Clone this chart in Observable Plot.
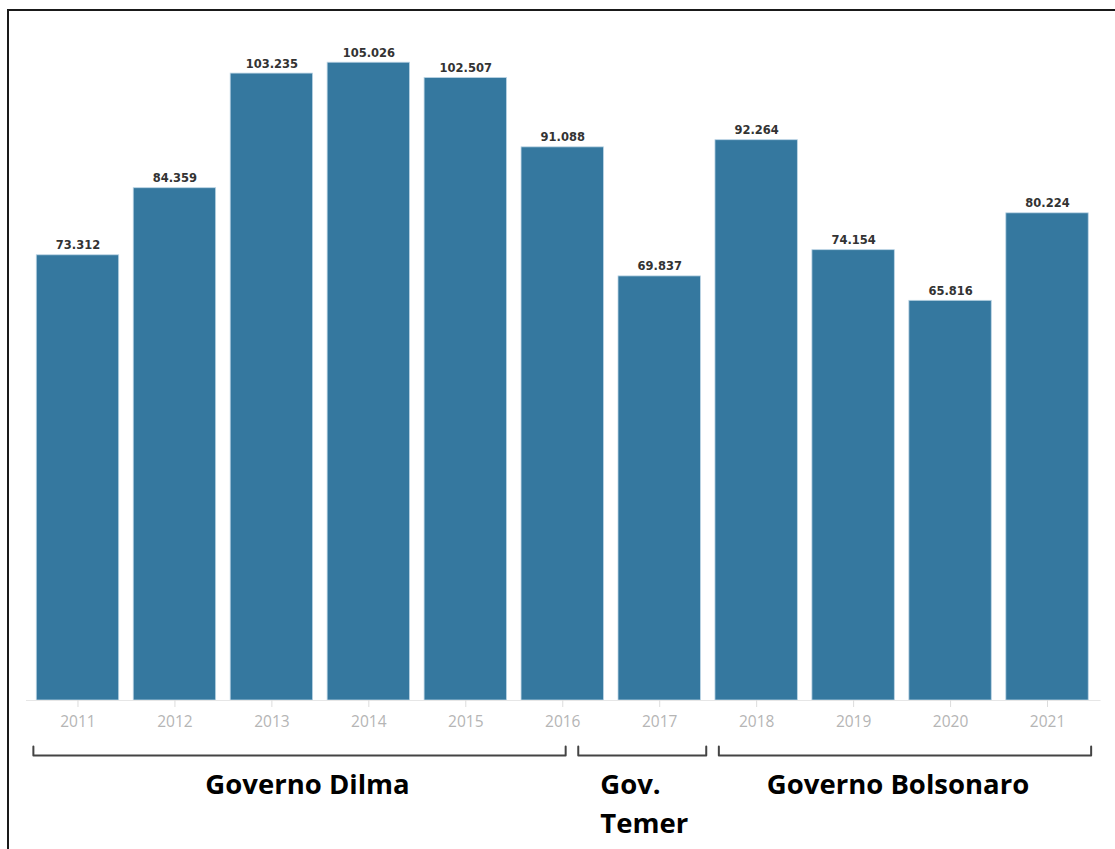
<!DOCTYPE html>
<html>
<head>
<meta charset="utf-8">
<script src="https://cdn.jsdelivr.net/npm/d3@7"></script>
<script src="https://cdn.jsdelivr.net/npm/@observablehq/plot@0.6"></script>
<style>
  html, body { margin: 0; padding: 0; background: #fff; }
  body { width: 1115px; height: 849px; position: relative; overflow: hidden; }
  #frame { position: absolute; left: 7px; top: 9px; width: 1200px; height: 900px;
           border-top: 2px solid #1a1a1a; border-left: 2px solid #1a1a1a; }
  #chart { position: absolute; left: 0; top: 0; }
</style>
</head>
<body>
<div id="frame"></div>
<div id="chart"></div>
<script>
// ---- data ----
const years = [2011, 2012, 2013, 2014, 2015, 2016, 2017, 2018, 2019, 2020, 2021];
const values = [73312, 84359, 103235, 105026, 102507, 91088, 69837, 92264, 74154, 65816, 80224];
const govNames = ["Governo Dilma", "Gov.\nTemer", "Governo Bolsonaro"];
const govStart = [2010.54, 2016.16, 2017.61];
const govEnd = [2016.03, 2017.48, 2021.45];

// ---- build ----
const ptBR = d3.formatLocale({decimal: ",", thousands: ".", grouping: [3], currency: ["R$", ""]});
const fmt = ptBR.format(",d");
const bars = years.map((y, i) => ({year: y, value: values[i]}));
const govs = govNames.map((n, i) => ({name: n, start: govStart[i], end: govEnd[i], mid: (govStart[i] + govEnd[i]) / 2}));

const W = 1115, H = 849, mTop = 32, mBottom = 149;
const yMax = 110000;
const perPx = yMax / (H - mTop - mBottom);
const below = px => -px * perPx; // value located px pixels under the baseline

const bracketPaths = govs.flatMap((g, i) => [
  {g: i, x: g.start, y: below(46)},
  {g: i, x: g.start, y: below(55)},
  {g: i, x: g.end, y: below(55)},
  {g: i, x: g.end, y: below(46)}
]);

const labelFont = {fill: "#000", fontFamily: "Open Sans", fontWeight: "bold", fontSize: 27.5};

const chart = Plot.plot({
  width: W,
  height: H,
  marginTop: mTop,
  marginBottom: mBottom,
  marginLeft: 29,
  marginRight: 19.5,
  style: {background: "transparent", overflow: "visible"},
  x: {type: "linear", domain: [2010.5, 2021.5], axis: null},
  y: {domain: [0, yMax], axis: null},
  marks: [
    Plot.rectY(bars, {x1: d => d.year - 0.425, x2: d => d.year + 0.425, y: "value",
      fill: "#35789f", stroke: "#bcd5e5", strokeWidth: 0.8}),
    Plot.ruleY([0], {stroke: "#e6e6e6", strokeWidth: 1.2, insetLeft: -3, insetRight: -5}),
    Plot.ruleX(years, {x: d => d, y1: 0, y2: below(7), stroke: "#dcdcdc"}),
    Plot.text(years, {x: d => d, y: 0, text: d => String(d), dy: 22, fill: "#b5b5b5",
      fontFamily: "Open Sans", fontSize: 15.5}),
    Plot.text(bars, {x: "year", y: "value", text: d => fmt(d.value), lineAnchor: "bottom", dy: -6,
      fill: "#333", fontFamily: "DejaVu Sans", fontWeight: "bold", fontSize: 11.5}),
    Plot.line(bracketPaths, {x: "x", y: "y", z: "g", stroke: "#444", strokeWidth: 2}),
    Plot.text([govs[0]], {x: "mid", y: below(85), text: "name", dx: 8, ...labelFont}),
    Plot.text([govs[2]], {x: "mid", y: below(85), text: "name", dx: -7, ...labelFont}),
    Plot.text([govs[1]], {x: "start", y: below(85), text: "name", dx: 22, textAnchor: "start",
      lineAnchor: "top", dy: -18.5, lineHeight: 1.4, ...labelFont})
  ]
});
document.getElementById("chart").appendChild(chart);
</script>
</body>
</html>
